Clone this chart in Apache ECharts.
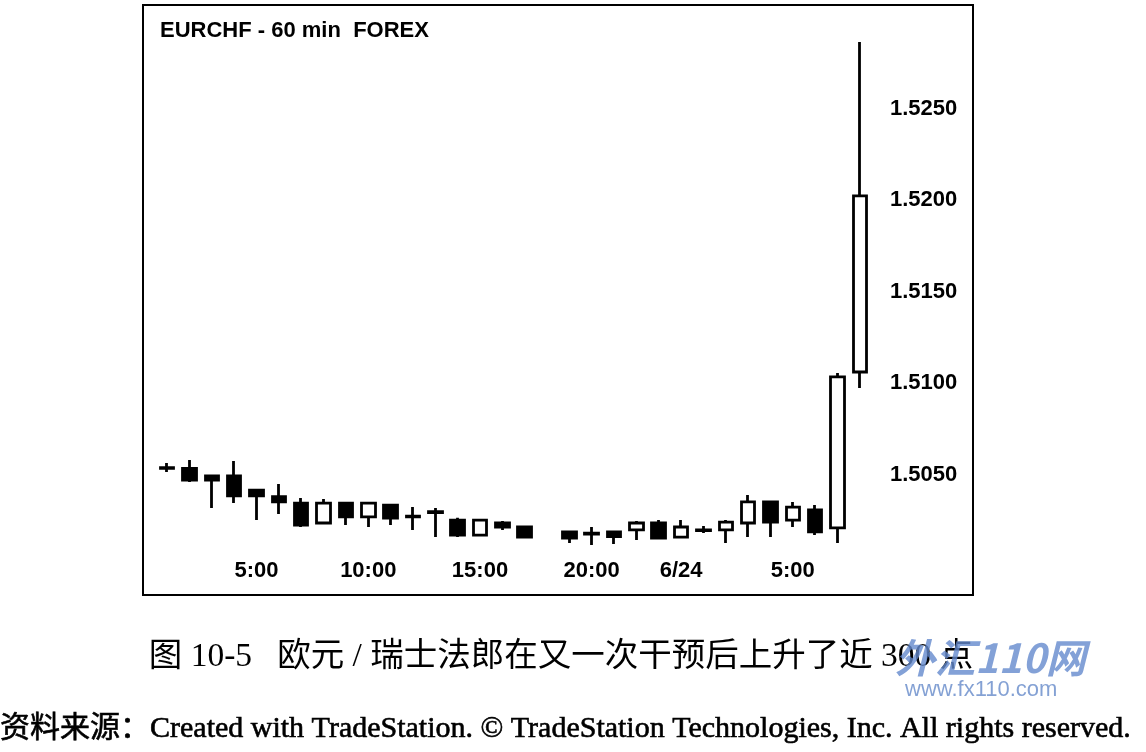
<!DOCTYPE html>
<html>
<head>
<meta charset="utf-8">
<title>EURCHF 60 min</title>
<script src="https://cdn.jsdelivr.net/npm/echarts@6/dist/echarts.min.js"></script>
<style>
    html, body { margin: 0; padding: 0; background: #fff; }
    #chart { width: 1146px; height: 752px; }
</style>
</head>
<body>
<div id="chart"></div>
<script>
    // 小时K线 (6/23 1:00 - 6/24 8:00), 18:00 缺失
    var categories = [
        '6/23 1:00', '6/23 2:00', '6/23 3:00', '6/23 4:00', '6/23 5:00', '6/23 6:00',
        '6/23 7:00', '6/23 8:00', '6/23 9:00', '6/23 10:00', '6/23 11:00', '6/23 12:00',
        '6/23 13:00', '6/23 14:00', '6/23 15:00', '6/23 16:00', '6/23 17:00', '6/23 18:00',
        '6/23 19:00', '6/23 20:00', '6/23 21:00', '6/23 22:00', '6/23 23:00', '6/24 0:00',
        '6/24 1:00', '6/24 2:00', '6/24 3:00', '6/24 4:00', '6/24 5:00', '6/24 6:00',
        '6/24 7:00', '6/24 8:00'
    ];
    var opens = [
        1.50537, 1.50534, 1.50492, 1.50493, 1.50415, 1.50379,
        1.50344, 1.50235, 1.50344, 1.50268, 1.50333, 1.50268,
        1.50297, 1.50251, 1.50169, 1.50235, 1.50213, '-',
        1.50186, 1.50180, 1.50186, 1.50197, 1.50235, 1.50158,
        1.50197, 1.50197, 1.50235, 1.50350, 1.50251, 1.50306,
        1.50208, 1.51060
    ];
    var closes = [
        1.50534, 1.50470, 1.50470, 1.50384, 1.50383, 1.50350,
        1.50224, 1.50344, 1.50268, 1.50344, 1.50262, 1.50273,
        1.50292, 1.50169, 1.50251, 1.50213, 1.50158, '-',
        1.50153, 1.50175, 1.50160, 1.50235, 1.50153, 1.50213,
        1.50194, 1.50240, 1.50350, 1.50240, 1.50322, 1.50186,
        1.51033, 1.52022
    ];
    var lows = [
        1.50514, 1.50459, 1.50317, 1.50344, 1.50251, 1.50284,
        1.50213, 1.50230, 1.50224, 1.50213, 1.50224, 1.50197,
        1.50158, 1.50158, 1.50164, 1.50197, 1.50156, '-',
        1.50126, 1.50115, 1.50120, 1.50142, 1.50148, 1.50158,
        1.50180, 1.50126, 1.50158, 1.50158, 1.50213, 1.50169,
        1.50126, 1.50973
    ];
    var highs = [
        1.50563, 1.50579, 1.50492, 1.50574, 1.50421, 1.50448,
        1.50372, 1.50366, 1.50350, 1.50350, 1.50339, 1.50322,
        1.50317, 1.50264, 1.50257, 1.50246, 1.50219, '-',
        1.50191, 1.50213, 1.50191, 1.50246, 1.50251, 1.50251,
        1.50219, 1.50251, 1.50388, 1.50355, 1.50350, 1.50333,
        1.51055, 1.52863
    ];
    // 横轴显示的刻度
    var shownTicks = ['6/23 5:00', '6/23 10:00', '6/23 15:00', '6/23 20:00', '6/24 0:00', '6/24 5:00'];
    var tickText = ['5:00', '10:00', '15:00', '20:00', '6/24', '5:00'];
    var priceTicks = [1.5050, 1.5100, 1.5150, 1.5200, 1.5250];

    var candleData = [];
    for (var i = 0; i < categories.length; i++) {
        candleData.push([opens[i], closes[i], lows[i], highs[i]]);
    }

    var myChart = echarts.init(document.getElementById('chart'));

    var option = {
        animation: false,
        backgroundColor: '#fff',
        grid: {
            left: 156,
            right: 275,
            top: 17,
            bottom: 186
        },
        xAxis: {
            type: 'category',
            data: categories,
            boundaryGap: true,
            axisLine: { show: false },
            axisTick: { show: false },
            splitLine: { show: false },
            axisLabel: {
                interval: 0,
                margin: -6,
                color: '#000',
                fontFamily: 'Liberation Sans',
                fontWeight: 'bold',
                fontSize: 22,
                formatter: function(v) {
                    var k = shownTicks.indexOf(v);
                    return k >= 0 ? tickText[k] : '';
                }
            }
        },
        yAxis: {
            type: 'value',
            position: 'right',
            min: 1.5,
            max: 1.53,
            interval: 0.005,
            scale: true,
            axisLine: { show: false },
            axisTick: { show: false },
            splitLine: { show: false },
            axisLabel: {
                margin: 19,
                color: '#000',
                fontFamily: 'Liberation Sans',
                fontWeight: 'bold',
                fontSize: 22,
                formatter: function(v) {
                    for (var j = 0; j < priceTicks.length; j++) {
                        if (Math.abs(priceTicks[j] - v) < 1e-7) {
                            return v.toFixed(4);
                        }
                    }
                    return '';
                }
            }
        },
        series: [{
            type: 'candlestick',
            data: candleData,
            barWidth: 14,
            itemStyle: {
                color: '#fff',
                color0: '#000',
                borderColor: '#000',
                borderColor0: '#000',
                borderColorDoji: '#000',
                borderWidth: 2.8
            }
        }],
        graphic: [
            {
                type: 'rect',
                shape: { x: 143, y: 5, width: 830, height: 590 },
                style: { fill: 'none', stroke: '#000', lineWidth: 2 },
                z: 100
            },
            {
                type: 'text',
                left: 160,
                top: 20,
                style: {
                    text: 'EURCHF - 60 min  FOREX',
                    fill: '#000',
                    font: 'bold 22px "Liberation Sans"'
                }
            },
            {
                type: 'text',
                x: 561,
                y: 657,
                style: {
                    text: '图 10-5   欧元 / 瑞士法郎在又一次干预后上升了近 300 点',
                    fill: '#000',
                    font: '33.5px "Liberation Serif", "Noto Sans CJK SC"',
                    align: 'center',
                    verticalAlign: 'middle'
                }
            },
            {
                type: 'text',
                x: 0,
                y: 729,
                style: {
                    text: '资料来源：Created with TradeStation. © TradeStation Technologies, Inc. All rights reserved.',
                    fill: '#000',
                    stroke: '#000',
                    lineWidth: 0.6,
                    font: '30px "Liberation Serif", "Noto Sans CJK SC"',
                    align: 'left',
                    verticalAlign: 'middle'
                }
            },
            {
                type: 'text',
                x: 895,
                y: 658,
                z: 50,
                style: {
                    text: '外汇110网',
                    fill: 'rgba(100,138,205,0.8)',
                    font: 'italic bold 40px "Noto Sans CJK SC"',
                    verticalAlign: 'middle'
                }
            },
            {
                type: 'text',
                x: 905,
                y: 690,
                z: 50,
                style: {
                    text: 'www.fx110.com',
                    fill: 'rgba(110,145,205,0.85)',
                    font: '22px "Liberation Sans"',
                    verticalAlign: 'middle'
                }
            }
        ]
    };

    myChart.setOption(option);
</script>
</body>
</html>
